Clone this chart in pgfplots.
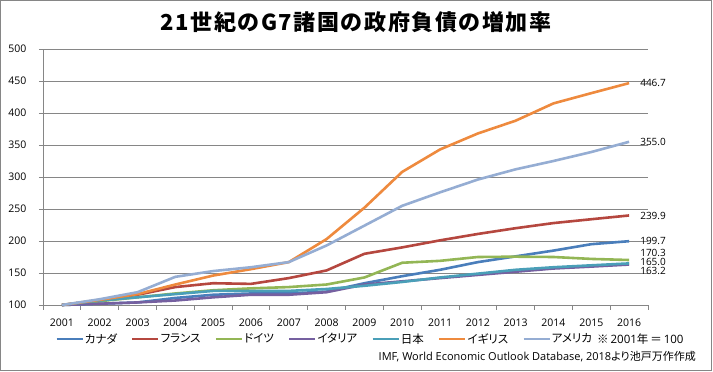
\documentclass[border=0pt]{standalone}
\usepackage{fontspec}
\usepackage{pgfplots}
\pgfplotsset{compat=1.18}
\setmainfont{Open Sans}
\newfontfamily\jp{Noto Sans CJK JP}
\newfontfamily\jpp[RawFeature=+palt]{Noto Sans CJK JP}
\definecolor{cCA}{HTML}{4A7EBB}
\definecolor{cFR}{HTML}{B5473F}
\definecolor{cDE}{HTML}{93B655}
\definecolor{cIT}{HTML}{7560A0}
\definecolor{cJP}{HTML}{4A9FB8}
\definecolor{cUK}{HTML}{EE8A3E}
\definecolor{cUS}{HTML}{95ADD3}
\definecolor{axgray}{HTML}{868686}
\begin{document}
\begin{tikzpicture}[x=1pt,y=1pt]
\useasboundingbox (0,0) rectangle (713,372);
\draw[axgray, line width=1pt] (0.5,1.5) rectangle (711.5,371.5);
\node[font=\jp\bfseries\fontsize{22}{22}\selectfont\addfontfeatures{LetterSpace=7}] at (356,350) {21世紀のG7諸国の政府負債の増加率};
\begin{axis}[
  at={(43pt,67pt)}, anchor=south west, scale only axis,
  width=605pt, height=256pt,
  xmin=-0.5, xmax=15.5, ymin=100, ymax=500,
  ytick={100,150,...,500},
  xtick={0,...,15},
  xticklabels={2001,2002,2003,2004,2005,2006,2007,2008,2009,2010,2011,2012,2013,2014,2015,2016},
  minor xtick={-0.5,0.5,...,15.5},
  axis x line*=bottom, axis y line*=left,
  axis line style={draw=axgray, line width=0.8pt},
  ymajorgrids, grid style={draw=axgray, line width=0.8pt},
  tick align=outside,
  major tick length=4pt, minor tick length=5pt,
  xtick style={draw=none},
  minor x tick style={draw=axgray, line width=0.8pt},
  ytick style={draw=axgray, line width=0.8pt},
  /pgf/number format/assume math mode=true,
  yticklabel style={font=\fontsize{10.5}{10.5}\selectfont, xshift=-9pt},
  xticklabel style={font=\fontsize{10.5}{10.5}\selectfont, yshift=-6pt},
  clip=false,
  every axis plot/.append style={line width=2.6pt, line join=round},
  legend style={font=\jpp\fontsize{11.5}{12}\selectfont, at={(0.02,-0.133)}, anchor=west,
    draw=none, fill=none, inner sep=0pt, legend columns=-1,
    /tikz/every even column/.append style={column sep=13pt},
    nodes={inner xsep=1pt, inner ysep=0pt}},
  legend image code/.code={\draw[#1, line width=2.6pt] (0pt,0pt) -- (26pt,0pt);},
]
\addplot[cCA] coordinates {(0,100)(1,102)(2,104)(3,111)(4,116)(5,118)(6,118)(7,121)(8,134)(9,145)(10,155)(11,167)(12,176)(13,185)(14,195)(15,199.7)};
\addlegendentry{カナダ}
\addplot[cFR] coordinates {(0,100)(1,107)(2,116)(3,128)(4,134)(5,133)(6,142)(7,154)(8,180)(9,190)(10,201)(11,211)(12,220)(13,228)(14,234)(15,239.9)};
\addlegendentry{フランス}
\addplot[cDE] coordinates {(0,100)(1,106)(2,112)(3,118)(4,123)(5,126)(6,128)(7,132)(8,143)(9,166)(10,169)(11,175)(12,175.5)(13,175)(14,172)(15,170.3)};
\addlegendentry{ドイツ}
\addplot[cIT] coordinates {(0,100)(1,102)(2,104)(3,107)(4,112)(5,116)(6,116)(7,120)(8,132)(9,137)(10,142)(11,147)(12,152)(13,157)(14,160)(15,163.2)};
\addlegendentry{イタリア}
\addplot[cJP] coordinates {(0,100)(1,107)(2,112)(3,117)(4,122)(5,122)(6,122)(7,125)(8,130)(9,136)(10,143)(11,149)(12,155)(13,159)(14,162)(15,165.0)};
\addlegendentry{日本}
\addplot[cUK] coordinates {(0,100)(1,108)(2,117)(3,132)(4,146)(5,156)(6,167)(7,203)(8,252)(9,308)(10,343)(11,368)(12,388)(13,415)(14,431)(15,446.7)};
\addlegendentry{イギリス}
\addplot[cUS] coordinates {(0,100)(1,109)(2,120)(3,144)(4,153)(5,159)(6,167)(7,193)(8,224)(9,255)(10,276)(11,296)(12,312)(13,325)(14,339)(15,355.0)};
\addlegendentry{アメリカ}
\begin{scope}[every node/.style={anchor=west, inner sep=0pt, xshift=11pt, font=\fontsize{10}{10}\selectfont}]
\node at (axis cs:15,446.7) {446.7};
\node at (axis cs:15,355.0) {355.0};
\node at (axis cs:15,239.9) {239.9};
\node at (axis cs:15,199.7) {199.7};
\node at (axis cs:15,181) {170.3};
\node at (axis cs:15,167) {165.0};
\node at (axis cs:15,153) {163.2};
\end{scope}
\end{axis}
\node[anchor=west, inner sep=0pt, font=\fontsize{11.5}{11.5}\selectfont] at (597,33) {{\jp ※}\,2001{\jp 年}\,{\jp ＝}\,100};
\node[anchor=east, inner sep=0pt, font=\fontsize{11}{11}\selectfont] at (696,15) {IMF, World Economic Outlook Database, 2018{\jpp より池戸万作作成}};
\end{tikzpicture}
\end{document}
